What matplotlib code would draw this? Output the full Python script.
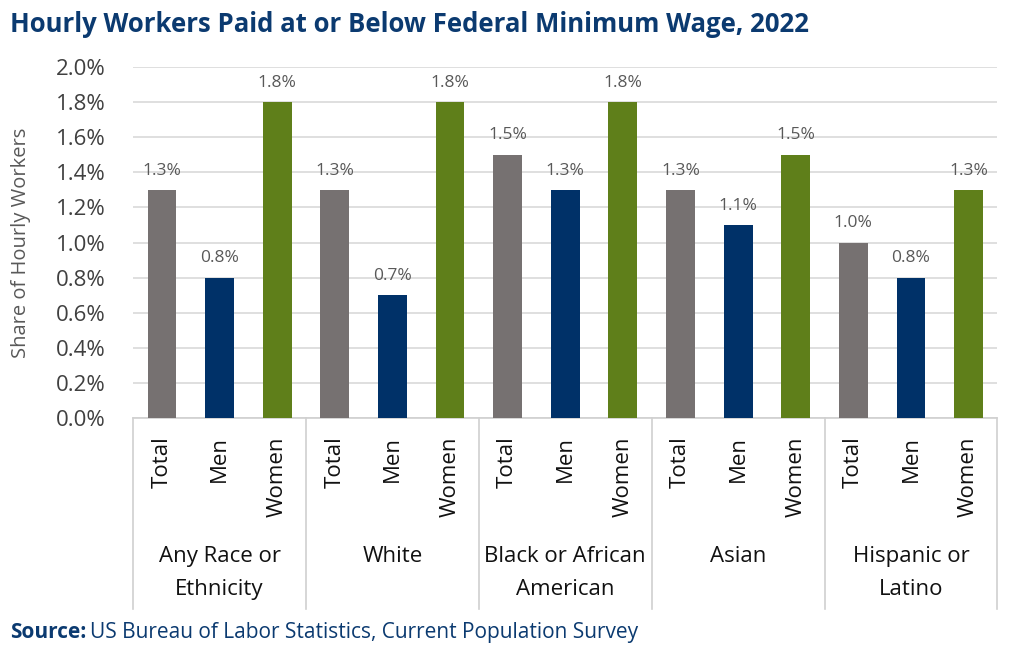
import matplotlib
matplotlib.use('Agg')
import matplotlib.pyplot as plt
import numpy as np

groups = ['Any Race or\nEthnicity', 'White', 'Black or African\nAmerican', 'Asian', 'Hispanic or\nLatino']
subs = ['Total', 'Men', 'Women']
total = [1.3, 1.3, 1.5, 1.3, 1.0]
men = [0.8, 0.7, 1.3, 1.1, 0.8]
women = [1.8, 1.8, 1.8, 1.5, 1.3]
yticks = [0.0, 0.2, 0.4, 0.6, 0.8, 1.0, 1.2, 1.4, 1.6, 1.8, 2.0]

colors = ['#767171', '#003168', '#5F7F1A']
navy = '#0B3A70'
plt.rcParams['font.family'] = ['Open Sans', 'DejaVu Sans']

fig = plt.figure(figsize=(10.24, 6.52), dpi=100)
ax = fig.add_axes([0.130, 0.359, 0.844, 0.538])

vals = []
for i in range(len(groups)):
    vals += [total[i], men[i], women[i]]
x = np.arange(len(vals))
bar_colors = colors * len(groups)
ax.bar(x, vals, width=0.5, color=bar_colors, zorder=3)
for xi, v in zip(x, vals):
    ax.text(xi, v + 0.065, f'{v:.1f}%', ha='center', va='bottom', fontsize=12.5, color='#595959')

ax.set_ylim(0, 2.0)
ax.set_xlim(-0.5, len(vals) - 0.5)
ax.set_yticks(yticks)
ax.set_yticklabels([f'{t:.1f}%' for t in yticks], fontsize=16, color='#404040')
ax.grid(axis='y', color='#d9d9d9', linewidth=1.2, zorder=0)
ax.tick_params(axis='y', length=0, pad=20)
ax.tick_params(axis='x', length=0, labelbottom=False)
for s in ['top', 'right', 'left']:
    ax.spines[s].set_visible(False)
ax.spines['bottom'].set_color('#d0d0d0')
ax.spines['bottom'].set_linewidth(1.2)
ax.set_ylabel('Share of Hourly Workers', fontsize=14.5, color='#595959', labelpad=18)

tr = ax.get_xaxis_transform()
for xi in x:
    ax.text(xi, -0.052, subs[xi % 3], rotation=90, ha='center', va='top', fontsize=16,
            color='#111111', transform=tr)
for g, name in enumerate(groups):
    ax.text(3 * g + 1, -0.365, name, ha='center', va='top', fontsize=16, color='#111111',
            linespacing=1.75, transform=tr)
for b in np.arange(-0.5, len(vals), 3):
    ax.plot([b, b], [0, -0.545], color='#d0d0d0', linewidth=1.2, transform=tr, clip_on=False)

fig.text(0.010, 0.962, 'Hourly Workers Paid at or Below Federal Minimum Wage, 2022',
         fontsize=18.5, fontweight='bold', color=navy, ha='left', va='center')
t = fig.text(0.010, 0.030, 'Source:', fontsize=15, fontweight='bold', color=navy, ha='left', va='center')
fig.canvas.draw()
bb = t.get_window_extent()
fig.text(bb.x1 / fig.bbox.width + 0.003, 0.030, 'US Bureau of Labor Statistics, Current Population Survey',
         fontsize=15, color=navy, ha='left', va='center')

fig.savefig('out.png', dpi=100)
